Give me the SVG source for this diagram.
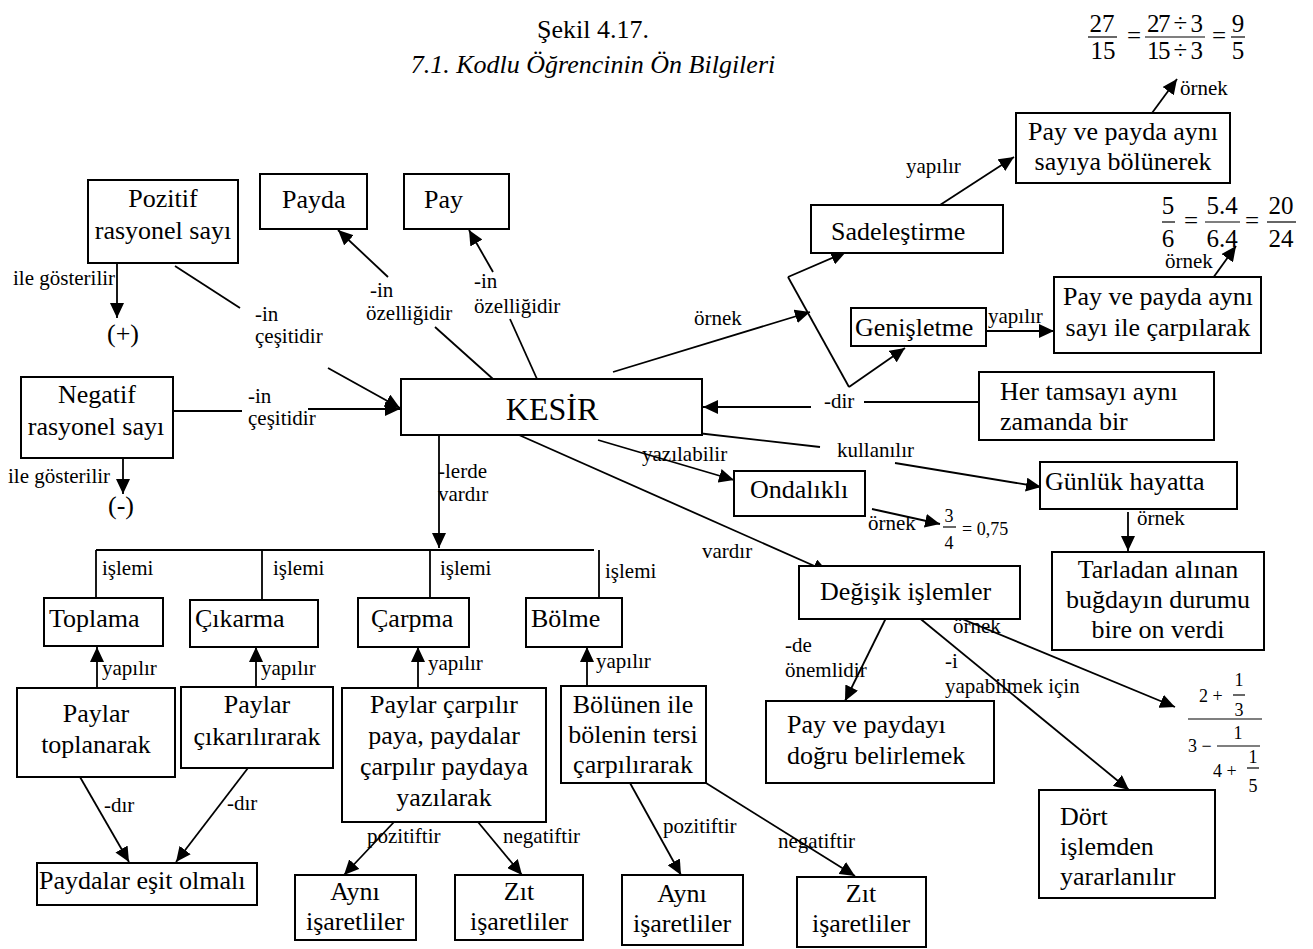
<svg xmlns="http://www.w3.org/2000/svg" width="1313" height="949" viewBox="0 0 1313 949">
  <defs>
    <marker id="ah" viewBox="0 0 15 14" refX="15" refY="7" markerWidth="15" markerHeight="14" markerUnits="userSpaceOnUse" orient="auto">
      <path d="M0,0 L15,7 L0,14 z" fill="#000"/>
    </marker>
    <style>
      text { font-family: "Liberation Serif", "Times New Roman", serif; fill: #000; }
      .box { fill: #fff; stroke: #000; stroke-width: 2; }
      .t { font-size: 26px; }
      .c { text-anchor: middle; }
      .k { font-size: 32px; }
      .l { font-size: 21px; }
      .m { font-size: 25px; }
      .s { font-size: 18px; }
      .ln { stroke: #000; stroke-width: 1.8; fill: none; }
      .ar { stroke: #000; stroke-width: 1.8; fill: none; marker-end: url(#ah); }
      .fb { stroke: #000; stroke-width: 1.2; }
    </style>
  </defs>
  <rect width="1313" height="949" fill="#fff"/>

  <!-- title -->
  <g id="title">
    <text class="t c" x="593" y="38">Şekil 4.17.</text>
    <text class="t c" x="593" y="73" font-style="italic">7.1. Kodlu Öğrencinin Ön Bilgileri</text>
  </g>

  <!-- connectors -->
  <g id="connectors">
    <line class="ar" x1="117" y1="263" x2="117" y2="318"/>
    <line class="ar" x1="123" y1="459" x2="123" y2="494"/>
    <line class="ln" x1="175" y1="266" x2="240" y2="308"/>
    <line class="ar" x1="328" y1="368" x2="400" y2="408"/>
    <line class="ln" x1="173" y1="411" x2="242" y2="411"/>
    <line class="ar" x1="308" y1="409" x2="400" y2="409"/>
    <line class="ln" x1="435" y1="327" x2="493" y2="379"/>
    <line class="ar" x1="388" y1="277" x2="338" y2="230"/>
    <line class="ln" x1="510" y1="319" x2="537" y2="379"/>
    <line class="ar" x1="493" y1="272" x2="469" y2="230"/>
    <line class="ar" x1="613" y1="372" x2="810" y2="312"/>
    <line class="ln" x1="788" y1="277" x2="849" y2="387"/>
    <line class="ar" x1="788" y1="277" x2="846" y2="252"/>
    <line class="ar" x1="849" y1="387" x2="905" y2="348"/>
    <line class="ar" x1="940" y1="205" x2="1014" y2="157"/>
    <line class="ar" x1="1152" y1="113" x2="1177" y2="79"/>
    <line class="ar" x1="986" y1="331" x2="1054" y2="331"/>
    <line class="ar" x1="1213" y1="278" x2="1236" y2="246"/>
    <line class="ln" x1="979" y1="402" x2="864" y2="402"/>
    <line class="ar" x1="811" y1="407" x2="703" y2="407"/>
    <line class="ln" x1="697" y1="433" x2="820" y2="447"/>
    <line class="ar" x1="895" y1="463" x2="1041" y2="487"/>
    <line class="ar" x1="598" y1="440" x2="734" y2="480"/>
    <line class="ar" x1="872" y1="509" x2="940" y2="524"/>
    <line class="ar" x1="519" y1="435" x2="828" y2="572"/>
    <line class="ar" x1="1128" y1="512" x2="1128" y2="551"/>
    <line class="ar" x1="887" y1="616" x2="845" y2="701"/>
    <line class="ar" x1="917" y1="616" x2="1129" y2="790"/>
    <line class="ar" x1="955" y1="616" x2="1175" y2="707"/>
    <line class="ar" x1="439" y1="435" x2="439" y2="548"/>
    <line class="ln" x1="96" y1="550" x2="594" y2="550"/>
    <line class="ln" x1="96" y1="550" x2="96" y2="598"/>
    <line class="ln" x1="262" y1="550" x2="262" y2="600"/>
    <line class="ln" x1="430" y1="550" x2="430" y2="598"/>
    <line class="ln" x1="599" y1="550" x2="599" y2="598"/>
    <line class="ar" x1="97" y1="688" x2="97" y2="647"/>
    <line class="ar" x1="256" y1="687" x2="256" y2="647"/>
    <line class="ar" x1="418" y1="688" x2="418" y2="647"/>
    <line class="ar" x1="587" y1="686" x2="587" y2="647"/>
    <line class="ar" x1="80" y1="777" x2="129" y2="862"/>
    <line class="ar" x1="248" y1="768" x2="176" y2="862"/>
    <line class="ar" x1="394" y1="822" x2="344" y2="875"/>
    <line class="ar" x1="478" y1="822" x2="522" y2="875"/>
    <line class="ar" x1="630" y1="783" x2="681" y2="875"/>
    <line class="ar" x1="706" y1="783" x2="855" y2="876"/>
  </g>

  <!-- connector labels -->
  <g id="labels">
    <text class="l" x="13" y="285">ile gösterilir</text>
    <text class="l" x="8" y="483">ile gösterilir</text>
    <text class="l" x="255" y="321">-in</text>
    <text class="l" x="255" y="343">çeşitidir</text>
    <text class="l" x="248" y="403">-in</text>
    <text class="l" x="248" y="425">çeşitidir</text>
    <text class="l" x="370" y="297">-in</text>
    <text class="l" x="366" y="320">özelliğidir</text>
    <text class="l" x="474" y="288">-in</text>
    <text class="l" x="474" y="313">özelliğidir</text>
    <text class="l" x="694" y="325">örnek</text>
    <text class="l" x="906" y="173">yapılır</text>
    <text class="l" x="1180" y="95">örnek</text>
    <text class="l" x="1165" y="268">örnek</text>
    <text class="l" x="988" y="323">yapılır</text>
    <text class="l" x="824" y="408">-dir</text>
    <text class="l" x="837" y="457">kullanılır</text>
    <text class="l" x="642" y="461">yazılabilir</text>
    <text class="l" x="868" y="530">örnek</text>
    <text class="l" x="702" y="558">vardır</text>
    <text class="l" x="438" y="478">-lerde</text>
    <text class="l" x="438" y="501">vardır</text>
    <text class="l" x="1137" y="525">örnek</text>
    <text class="l" x="102" y="575">işlemi</text>
    <text class="l" x="273" y="575">işlemi</text>
    <text class="l" x="440" y="575">işlemi</text>
    <text class="l" x="605" y="578">işlemi</text>
    <text class="l" x="102" y="675">yapılır</text>
    <text class="l" x="261" y="675">yapılır</text>
    <text class="l" x="428" y="670">yapılır</text>
    <text class="l" x="596" y="668">yapılır</text>
    <text class="l" x="104" y="812">-dır</text>
    <text class="l" x="227" y="810">-dır</text>
    <text class="l" x="367" y="843">pozitiftir</text>
    <text class="l" x="503" y="843">negatiftir</text>
    <text class="l" x="663" y="833">pozitiftir</text>
    <text class="l" x="778" y="848">negatiftir</text>
    <text class="l" x="785" y="652">-de</text>
    <text class="l" x="785" y="677">önemlidir</text>
    <text class="l" x="945" y="668">-i</text>
    <text class="l" x="945" y="693">yapabilmek için</text>
    <text class="l" x="953" y="633">örnek</text>
  </g>

  <!-- nodes -->
  <g id="n-pozitif">
    <rect class="box" x="88" y="180" width="150" height="83"/>
    <text class="t c" x="163" y="207">Pozitif</text>
    <text class="t c" x="163" y="239">rasyonel sayı</text>
  </g>
  <g id="n-arti"><text class="t" x="107" y="342">(+)</text></g>
  <g id="n-negatif">
    <rect class="box" x="21" y="377" width="152" height="81"/>
    <text class="t c" x="97" y="403">Negatif</text>
    <text class="t c" x="96" y="435">rasyonel sayı</text>
  </g>
  <g id="n-eksi"><text class="t" x="108" y="514">(-)</text></g>
  <g id="n-payda">
    <rect class="box" x="260" y="174" width="107" height="55"/>
    <text class="t" x="282" y="208">Payda</text>
  </g>
  <g id="n-pay">
    <rect class="box" x="404" y="174" width="105" height="55"/>
    <text class="t" x="424" y="208">Pay</text>
  </g>
  <g id="n-kesir">
    <rect class="box" x="401" y="379" width="301" height="56"/>
    <text class="k c" x="552" y="420">KESİR</text>
  </g>
  <g id="n-sadelestirme">
    <rect class="box" x="811" y="205" width="192" height="48"/>
    <text class="t" x="831" y="240">Sadeleştirme</text>
  </g>
  <g id="n-bolunerek">
    <rect class="box" x="1016" y="113" width="214" height="70"/>
    <text class="t c" x="1123" y="140">Pay ve payda aynı</text>
    <text class="t c" x="1123" y="170">sayıya bölünerek</text>
  </g>
  <g id="n-ornek1">
    <text class="m c" x="1102" y="32">27</text>
    <line class="fb" x1="1088" y1="37" x2="1117" y2="37"/>
    <text class="m c" x="1103" y="59">15</text>
    <text class="m c" x="1134" y="44">=</text>
    <text class="m" x="1147" y="32" textLength="56" lengthAdjust="spacing">27 ÷ 3</text>
    <line class="fb" x1="1145" y1="37" x2="1205" y2="37"/>
    <text class="m" x="1147" y="59" textLength="56" lengthAdjust="spacing">15 ÷ 3</text>
    <text class="m c" x="1219" y="44">=</text>
    <text class="m c" x="1238" y="32">9</text>
    <line class="fb" x1="1231" y1="37" x2="1245" y2="37"/>
    <text class="m c" x="1238" y="59">5</text>
  </g>
  <g id="n-genisletme">
    <rect class="box" x="851" y="308" width="135" height="38"/>
    <text class="t" x="855" y="336">Genişletme</text>
  </g>
  <g id="n-carpilarak">
    <rect class="box" x="1054" y="277" width="207" height="76"/>
    <text class="t c" x="1158" y="305">Pay ve payda aynı</text>
    <text class="t c" x="1158" y="336">sayı ile çarpılarak</text>
  </g>
  <g id="n-ornek2">
    <text class="m c" x="1168" y="214">5</text>
    <line class="fb" x1="1162" y1="222" x2="1175" y2="222"/>
    <text class="m c" x="1168" y="247">6</text>
    <text class="m c" x="1191" y="229">=</text>
    <text class="m c" x="1222" y="214">5.4</text>
    <line class="fb" x1="1205" y1="222" x2="1240" y2="222"/>
    <text class="m c" x="1222" y="247">6.4</text>
    <text class="m c" x="1252" y="229">=</text>
    <text class="m c" x="1281" y="214">20</text>
    <line class="fb" x1="1267" y1="222" x2="1296" y2="222"/>
    <text class="m c" x="1281" y="247">24</text>
  </g>
  <g id="n-tamsayi">
    <rect class="box" x="979" y="372" width="235" height="68"/>
    <text class="t" x="1000" y="400">Her tamsayı aynı</text>
    <text class="t" x="1000" y="430">zamanda bir</text>
  </g>
  <g id="n-ondalikli">
    <rect class="box" x="734" y="471" width="131" height="45"/>
    <text class="t" x="750" y="498">Ondalıklı</text>
  </g>
  <g id="n-ornek3">
    <text class="s c" x="949" y="522">3</text>
    <line class="fb" x1="943" y1="527" x2="956" y2="527"/>
    <text class="s c" x="949" y="549">4</text>
    <text class="s" x="962" y="535">= 0,75</text>
  </g>
  <g id="n-gunluk">
    <rect class="box" x="1040" y="462" width="197" height="47"/>
    <text class="t" x="1045" y="490">Günlük hayatta</text>
  </g>
  <g id="n-tarladan">
    <rect class="box" x="1052" y="552" width="212" height="98"/>
    <text class="t c" x="1158" y="578">Tarladan alınan</text>
    <text class="t c" x="1158" y="608">buğdayın durumu</text>
    <text class="t c" x="1158" y="638">bire on verdi</text>
  </g>
  <g id="n-degisik">
    <rect class="box" x="799" y="566" width="221" height="53"/>
    <text class="t" x="820" y="600">Değişik işlemler</text>
  </g>
  <g id="n-belirlemek">
    <rect class="box" x="766" y="701" width="228" height="82"/>
    <text class="t" x="787" y="733">Pay ve paydayı</text>
    <text class="t" x="787" y="764">doğru belirlemek</text>
  </g>
  <g id="n-ornek4">
    <text class="s" x="1199" y="702">2 +</text>
    <text class="s c" x="1239" y="686">1</text>
    <line class="fb" x1="1233" y1="695" x2="1245" y2="695"/>
    <text class="s c" x="1239" y="716">3</text>
    <line class="fb" x1="1188" y1="719" x2="1262" y2="719"/>
    <text class="s" x="1188" y="752">3 −</text>
    <text class="s c" x="1238" y="739">1</text>
    <line class="fb" x1="1217" y1="746" x2="1260" y2="746"/>
    <text class="s" x="1213" y="777">4 +</text>
    <text class="s c" x="1253" y="763">1</text>
    <line class="fb" x1="1247" y1="768" x2="1259" y2="768"/>
    <text class="s c" x="1253" y="792">5</text>
  </g>
  <g id="n-dort">
    <rect class="box" x="1039" y="790" width="176" height="108"/>
    <text class="t" x="1060" y="825">Dört</text>
    <text class="t" x="1060" y="855">işlemden</text>
    <text class="t" x="1060" y="885">yararlanılır</text>
  </g>
  <g id="n-toplama">
    <rect class="box" x="44" y="598" width="119" height="48"/>
    <text class="t" x="49" y="627">Toplama</text>
  </g>
  <g id="n-cikarma">
    <rect class="box" x="190" y="600" width="128" height="47"/>
    <text class="t" x="195" y="627">Çıkarma</text>
  </g>
  <g id="n-carpma">
    <rect class="box" x="358" y="598" width="111" height="49"/>
    <text class="t" x="371" y="627">Çarpma</text>
  </g>
  <g id="n-bolme">
    <rect class="box" x="526" y="598" width="96" height="49"/>
    <text class="t" x="531" y="627">Bölme</text>
  </g>
  <g id="n-toplanarak">
    <rect class="box" x="17" y="688" width="158" height="89"/>
    <text class="t c" x="96" y="722">Paylar</text>
    <text class="t c" x="96" y="753">toplanarak</text>
  </g>
  <g id="n-cikarilirarak">
    <rect class="box" x="181" y="687" width="152" height="81"/>
    <text class="t c" x="257" y="713">Paylar</text>
    <text class="t c" x="257" y="745">çıkarılırarak</text>
  </g>
  <g id="n-carpilir">
    <rect class="box" x="342" y="688" width="204" height="134"/>
    <text class="t c" x="444" y="713">Paylar çarpılır</text>
    <text class="t c" x="444" y="744">paya, paydalar</text>
    <text class="t c" x="444" y="775">çarpılır paydaya</text>
    <text class="t c" x="444" y="806">yazılarak</text>
  </g>
  <g id="n-bolunen">
    <rect class="box" x="561" y="686" width="145" height="97"/>
    <text class="t c" x="633" y="713">Bölünen ile</text>
    <text class="t c" x="633" y="743">bölenin tersi</text>
    <text class="t c" x="633" y="773">çarpılırarak</text>
  </g>
  <g id="n-paydalar">
    <rect class="box" x="37" y="863" width="220" height="42"/>
    <text class="t" x="39" y="889">Paydalar eşit olmalı</text>
  </g>
  <g id="n-ayni1">
    <rect class="box" x="295" y="875" width="121" height="65"/>
    <text class="t c" x="355" y="900">Aynı</text>
    <text class="t c" x="355" y="930">işaretliler</text>
  </g>
  <g id="n-zit1">
    <rect class="box" x="455" y="875" width="128" height="65"/>
    <text class="t c" x="519" y="900">Zıt</text>
    <text class="t c" x="519" y="930">işaretliler</text>
  </g>
  <g id="n-ayni2">
    <rect class="box" x="622" y="875" width="121" height="70"/>
    <text class="t c" x="682" y="902">Aynı</text>
    <text class="t c" x="682" y="932">işaretliler</text>
  </g>
  <g id="n-zit2">
    <rect class="box" x="797" y="877" width="129" height="70"/>
    <text class="t c" x="861" y="902">Zıt</text>
    <text class="t c" x="861" y="932">işaretliler</text>
  </g>
</svg>
